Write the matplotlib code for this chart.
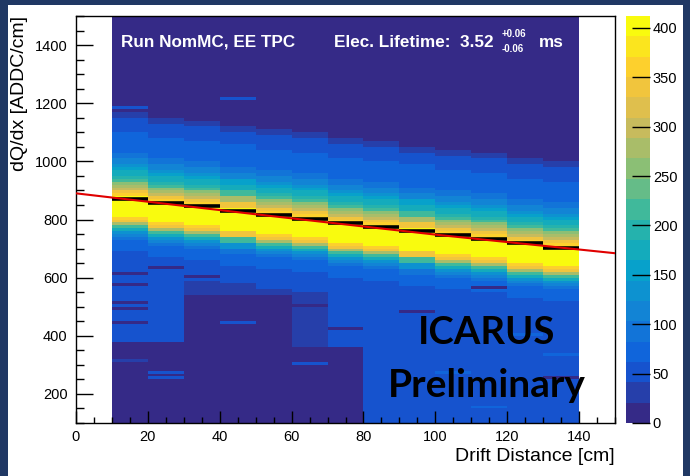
#!/usr/bin/env python3
import numpy as np
import matplotlib
matplotlib.use("Agg")
import matplotlib.pyplot as plt
from matplotlib.colors import LinearSegmentedColormap, BoundaryNorm
from matplotlib.patches import Rectangle

plt.rcParams['font.family'] = ['Liberation Sans', 'DejaVu Sans']

# --- binning of the 2D histogram (drift distance x dQ/dx) ---
X_EDGES = np.arange(10, 141, 10)          # 13 drift bins, 10 cm wide
Y_EDGES = np.arange(100, 1501, 10)        # dQ/dx bins, 10 ADC wide

# per-drift-bin fitted value (black steps)
BIN_PEAK = [872, 858, 845, 830, 816, 802, 788, 774, 760, 746, 732, 718, 702]

# shape of the dQ/dx distribution around the black step, 10 ADC per entry,
# from +340 above the step down to -250 below it
PROFILE_TOP = 340
PROFILE = [8, 10, 12, 15, 20,
           30, 38, 45, 50, 55,
           58, 60, 62, 65, 68, 70, 72, 75, 80, 85,
           95, 105, 120, 135,
           150, 165, 180, 200,
           225, 250, 270,
           300, 330, 355,
           395, 405, 410, 412, 410, 405, 395,
           370, 330, 280, 220, 170, 130, 105, 90, 80, 72, 66, 62, 58, 55,
           52, 50, 48, 46, 44]
UPPER_FLOOR = 6
# counts further below the band, and the dQ/dx where it turns darker
LOW_NEAR = [44, 42, 36, 34, 36, 40, 42, 46, 46, 47, 47, 47, 47]
LOW_FAR = [14, 14, 10, 9, 10, 14, 16, 42, 42, 44, 44, 44, 44]
LOW_SPLIT = [380, 380, 540, 540, 540, 360, 360, 100, 100, 100, 100, 100, 100]

# single dQ/dx rows that stand out (drift bin index, dQ/dx, counts)
STRIPES = [(0, 1180, 50), (3, 1210, 50), (0, 615, 14), (0, 577, 14),
           (0, 518, 14), (0, 490, 14), (0, 449, 14), (0, 310, 40),
           (1, 636, 14), (1, 380, 45), (1, 270, 45), (1, 255, 45),
           (2, 600, 14), (3, 445, 45), (5, 300, 45), (5, 500, 14), (6, 420, 14),
           (7, 200, 60), (9, 270, 65), (10, 150, 65), (11, 400, 65), (12, 330, 65),
           (8, 480, 20), (10, 560, 20), (12, 250, 20)]

# exponential fit (red)
FIT_X = [0, 50, 100, 150]
FIT_Y = [890, 818, 748, 684]

Z_MAX = 412
Z_TICKS = [0, 50, 100, 150, 200, 250, 300, 350, 400]

# ROOT kBird palette
BIRD = [(0.2082, 0.1664, 0.5293), (0.0592, 0.3599, 0.8684), (0.0780, 0.5041, 0.8385),
        (0.0232, 0.6419, 0.7914), (0.1802, 0.7178, 0.6425), (0.5301, 0.7492, 0.4662),
        (0.8186, 0.7328, 0.3499), (0.9956, 0.7862, 0.1968), (0.9764, 0.9832, 0.0539)]


def build_hist():
    yc = 0.5 * (Y_EDGES[:-1] + Y_EDGES[1:])
    H = np.zeros((len(yc), len(X_EDGES) - 1))
    for c, pk in enumerate(BIN_PEAK):
        for i, y in enumerate(yc):
            k = int(round((PROFILE_TOP - (y - pk)) / 10.0))
            if k < 0:
                H[i, c] = UPPER_FLOOR
            elif k < len(PROFILE):
                H[i, c] = PROFILE[k]
            elif y > LOW_SPLIT[c]:
                H[i, c] = LOW_NEAR[c]
            else:
                H[i, c] = LOW_FAR[c]
    for c, y, v in STRIPES:
        i = int((y - Y_EDGES[0]) // 10)
        H[i, c] = v
    return H


def main():
    fig = plt.figure(figsize=(6.9, 4.76), dpi=100)
    fig.patch.set_facecolor('#203864')
    fig.patches.append(Rectangle((8 / 690, 0), 675 / 690, 471 / 476,
                                 transform=fig.transFigure, facecolor='white',
                                 edgecolor='none', zorder=-5))

    ax = fig.add_axes([76 / 690, 53 / 476, 539 / 690, 407 / 476])
    cax = fig.add_axes([626 / 690, 53 / 476, 24 / 690, 407 / 476])

    cmap = LinearSegmentedColormap.from_list('bird', BIRD, N=256)
    norm = BoundaryNorm(np.linspace(0, Z_MAX, 21), cmap.N)

    H = build_hist()
    mesh = ax.pcolormesh(X_EDGES, Y_EDGES, H, cmap=cmap, norm=norm)

    # black per-bin steps, then the red fit on top
    ax.hlines(BIN_PEAK, X_EDGES[:-1], X_EDGES[1:], colors='black', lw=2.6, zorder=3)
    ax.plot(FIT_X, FIT_Y, color='#e00000', lw=1.5, zorder=4)

    ax.set_xlim(0, 150)
    ax.set_ylim(100, 1500)
    ax.set_xticks(np.arange(0, 141, 20))
    ax.set_xticks(np.arange(0, 151, 5), minor=True)
    ax.set_yticks(np.arange(200, 1401, 200))
    ax.set_yticks(np.arange(100, 1501, 50), minor=True)
    ax.xaxis.set_tick_params(which='major', direction='in', length=9, width=1, labelsize=10.5, pad=5)
    ax.xaxis.set_tick_params(which='minor', direction='in', length=4.5, width=1)
    ax.yaxis.set_tick_params(which='major', direction='in', length=12, width=1, labelsize=10.5, pad=6)
    ax.yaxis.set_tick_params(which='minor', direction='in', length=6, width=1)
    for s in ax.spines.values():
        s.set_linewidth(1)

    ax.set_xlabel('Drift Distance [cm]', fontsize=14, loc='right', labelpad=3)
    ax.set_ylabel('dQ/dx [ADDC/cm]', fontsize=14, loc='top', labelpad=5)

    ax.text(0.083, 0.935, 'Run NomMC, EE TPC', transform=ax.transAxes, color='white',
            fontsize=12.3, fontweight='bold', va='center')
    ax.text(0.478, 0.935, 'Elec. Lifetime:  3.52', transform=ax.transAxes, color='white',
            fontsize=12.3, fontweight='bold', va='center')
    ax.text(0.79, 0.956, '+0.06', transform=ax.transAxes, color='white',
            fontsize=7, fontweight='bold', va='center')
    ax.text(0.79, 0.918, '-0.06', transform=ax.transAxes, color='white',
            fontsize=7, fontweight='bold', va='center')
    ax.text(0.858, 0.935, 'ms', transform=ax.transAxes, color='white',
            fontsize=12.3, fontweight='bold', va='center')

    ax.text(0.762, 0.22, 'ICARUS', transform=ax.transAxes, color='black',
            fontsize=27.5, fontweight='bold', family=['Lato', 'DejaVu Sans'],
            ha='center', va='center')
    ax.text(0.762, 0.093, 'Preliminary', transform=ax.transAxes, color='black',
            fontsize=28, fontweight='bold', family=['Lato', 'DejaVu Sans'],
            ha='center', va='center')

    cb = fig.colorbar(mesh, cax=cax, ticks=Z_TICKS)
    cb.outline.set_visible(False)
    cax.yaxis.set_tick_params(direction='in', length=13, width=1, labelsize=10.5, pad=2)
    cax.minorticks_off()

    fig.savefig('out.png', dpi=100, facecolor=fig.get_facecolor())
    plt.close(fig)


if __name__ == '__main__':
    main()
